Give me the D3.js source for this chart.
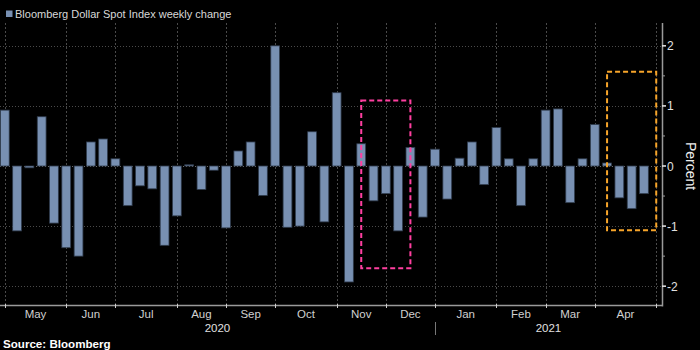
<!DOCTYPE html>
<html>
<head>
<meta charset="utf-8">
<script src="https://cdn.jsdelivr.net/npm/d3@7"></script>
<style>
  html, body { margin: 0; padding: 0; background: #000; }
  svg { display: block; }
  text { font-family: "Liberation Sans", Arial, sans-serif; }
</style>
</head>
<body>
<svg id="chart" width="700" height="350"></svg>
<script>
// ---- Data ----
const title = "Bloomberg Dollar Spot Index weekly change";
const source = "Source: Bloomberg";
const yAxisTitle = "Percent";
const firstWeek = "2020-05-01";   // first weekly observation (Friday)
const lastBoundary = "2021-05-07"; // next month boundary after last week
const weeklyChange = [
  0.93, -1.08, -0.03, 0.82, -0.95, -1.36, -1.50, 0.40, 0.45, 0.12,
  -0.66, -0.33, -0.38, -1.32, -0.83, 0.02, -0.39, -0.07, -1.03, 0.25,
  0.40, -0.49, 2.00, -1.02, -1.00, 0.57, -0.93, 1.22, -1.93, 0.37,
  -0.58, -0.46, -1.08, 0.31, -0.85, 0.28, -0.55, 0.13, 0.40, -0.31,
  0.64, 0.12, -0.66, 0.12, 0.93, 0.95, -0.61, 0.12, 0.69, 0.05,
  -0.53, -0.71, -0.46
];
const yTicks = [2, 1, 0, -1, -2];
const yMinorTicks = [1.5, 0.5, -0.5, -1.5];
const yearLabels = ["2020", "2021"];
// highlight boxes: [week index start, week index end, value top, value bottom]
const highlightPink = [29, 33, 1.09, -1.70];
const highlightOrange = [49, 53, 1.57, -1.07];

// ---- Layout ----
const W = 700, H = 350;
const plotLeft = 0, plotRight = 662, plotTop = 23, plotBottom = 306;
const barColor = "#7890b2";
const svg = d3.select("#chart");
svg.append("rect").attr("width", W).attr("height", H).attr("fill", "#000");

const parse = d3.utcParse("%Y-%m-%d");
const d0 = parse(firstWeek);
const weeks = weeklyChange.map((v, i) => d3.utcDay.offset(d0, 7 * i));
const allWeeks = weeks.concat([parse(lastBoundary)]);

// x: week index
const x = d3.scaleLinear().domain([-0.39, 53.47]).range([plotLeft, plotRight]);
const y = d3.scaleLinear().domain([-2.33, 2.38]).range([plotBottom, plotTop]);

// month boundaries: first week of each month
const monthStarts = [];
allWeeks.forEach((d, i) => {
  if (i === 0 || d.getUTCMonth() !== allWeeks[i - 1].getUTCMonth()) monthStarts.push(i);
});
const monthFmt = d3.utcFormat("%b");

// gridlines
const grid = svg.append("g");
yTicks.forEach(t => {
  grid.append("line")
    .attr("x1", plotLeft).attr("x2", plotRight)
    .attr("y1", Math.round(y(t)) + 0.5).attr("y2", Math.round(y(t)) + 0.5)
    .attr("stroke", t === 0 ? "#6a6a6a" : "#4a4a4a")
    .attr("stroke-width", 1).attr("stroke-dasharray", "1,2");
});
monthStarts.forEach(i => {
  grid.append("line")
    .attr("x1", Math.round(x(i)) + 0.5).attr("x2", Math.round(x(i)) + 0.5)
    .attr("y1", plotTop).attr("y2", plotBottom)
    .attr("stroke", "#4a4a4a").attr("stroke-width", 1).attr("stroke-dasharray", "2,2");
});

// bars
svg.append("g").selectAll("rect").data(weeklyChange).join("rect")
  .attr("x", (d, i) => x(i) - 4.4)
  .attr("width", 8.8)
  .attr("y", d => y(Math.max(0, d)))
  .attr("height", d => Math.max(1, Math.abs(y(d) - y(0))))
  .attr("fill", barColor)
  .attr("stroke", "#2f3b4c").attr("stroke-width", 0.8);

// highlight boxes
function box(b, color) {
  svg.append("rect")
    .attr("x", x(b[0])).attr("y", y(b[2]))
    .attr("width", x(b[1]) - x(b[0]))
    .attr("height", y(b[3]) - y(b[2]))
    .attr("fill", "none").attr("stroke", color)
    .attr("stroke-width", 2).attr("stroke-dasharray", "5,3");
}
box(highlightPink, "#ff3fa0");
box(highlightOrange, "#f7a52a");

// right axis
const axisColor = "#9a9a9a";
svg.append("line").attr("x1", plotRight + 0.5).attr("x2", plotRight + 0.5)
  .attr("y1", plotTop).attr("y2", plotBottom + 0.5)
  .attr("stroke", axisColor).attr("stroke-width", 1.5);
yTicks.forEach(t => {
  svg.append("line").attr("x1", plotRight).attr("x2", plotRight + 4)
    .attr("y1", y(t)).attr("y2", y(t)).attr("stroke", "#e8e8e8").attr("stroke-width", 1.5);
  svg.append("text").attr("x", plotRight + 5).attr("y", y(t) + 4.5)
    .attr("fill", "#e0e0e0").attr("font-size", 12).text(String(t));
});
yMinorTicks.forEach(t => {
  svg.append("line").attr("x1", plotRight).attr("x2", plotRight + 3)
    .attr("y1", y(t)).attr("y2", y(t)).attr("stroke", axisColor).attr("stroke-width", 1);
});
svg.append("text")
  .attr("transform", `translate(686,${y(0)}) rotate(90)`)
  .attr("text-anchor", "middle").attr("fill", "#eeeeee")
  .attr("font-size", 14).text(yAxisTitle);

// bottom axis
svg.append("line").attr("x1", plotLeft).attr("x2", plotRight)
  .attr("y1", plotBottom - 0.5).attr("y2", plotBottom - 0.5)
  .attr("stroke", axisColor).attr("stroke-width", 1.5);
monthStarts.forEach(i => {
  svg.append("line")
    .attr("x1", Math.round(x(i)) + 0.5).attr("x2", Math.round(x(i)) + 0.5)
    .attr("y1", plotBottom - 2).attr("y2", plotBottom + 2)
    .attr("stroke", "#cfcfcf").attr("stroke-width", 1);
});
for (let k = 0; k < monthStarts.length - 1; k++) {
  const a = monthStarts[k], b = monthStarts[k + 1];
  svg.append("text")
    .attr("x", (x(a) + x(b)) / 2).attr("y", 318)
    .attr("text-anchor", "middle").attr("fill", "#d0d0d0")
    .attr("font-size", 11.5).text(monthFmt(allWeeks[a]));
}
// years
const janIdx = monthStarts.find(i => allWeeks[i].getUTCMonth() === 0);
svg.append("line").attr("x1", Math.round(x(janIdx)) + 0.5).attr("x2", Math.round(x(janIdx)) + 0.5)
  .attr("y1", 322).attr("y2", 335).attr("stroke", "#777").attr("stroke-width", 1);
svg.append("text").attr("x", (plotLeft + x(janIdx)) / 2).attr("y", 332)
  .attr("text-anchor", "middle").attr("fill", "#e0e0e0").attr("font-size", 11.5).text(yearLabels[0]);
svg.append("text").attr("x", (x(janIdx) + plotRight) / 2).attr("y", 332)
  .attr("text-anchor", "middle").attr("fill", "#e0e0e0").attr("font-size", 11.5).text(yearLabels[1]);

// legend/title
svg.append("rect").attr("x", 6).attr("y", 10.5).attr("width", 6.5).attr("height", 6.5).attr("fill", barColor);
svg.append("text").attr("x", 15).attr("y", 18).attr("fill", "#d8d8d8")
  .attr("font-size", 11).text(title);

// source
svg.append("text").attr("x", 3).attr("y", 348).attr("fill", "#ffffff")
  .attr("font-size", 11.6).attr("font-weight", "bold").text(source);
</script>
</body>
</html>
